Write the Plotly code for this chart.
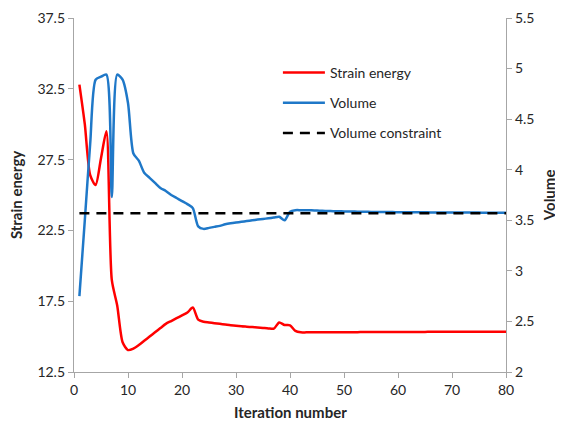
import plotly.graph_objects as go

iterations = list(range(1, 81))

strain_energy = [
    32.8, 30.0, 26.4, 25.7, 27.6, 29.5, 19.0, 17.2, 14.6, 14.05,
    14.15, 14.4, 14.7, 15.0, 15.3, 15.6, 15.9, 16.1, 16.3, 16.5,
    16.7, 17.05, 16.2, 16.05, 16.0, 15.95, 15.9, 15.85, 15.8, 15.77,
    15.73, 15.7, 15.67, 15.64, 15.61, 15.58, 15.56, 16.0, 15.82, 15.8,
    15.4, 15.3, 15.3, 15.3, 15.3, 15.3, 15.3, 15.3, 15.3, 15.31,
    15.31, 15.31, 15.32, 15.32, 15.32, 15.32, 15.32, 15.33, 15.33, 15.33,
    15.33, 15.33, 15.33, 15.33, 15.33, 15.34, 15.34, 15.34, 15.34, 15.34,
    15.34, 15.34, 15.34, 15.34, 15.35, 15.35, 15.35, 15.35, 15.35, 15.35,
]

volume = [
    2.75, 3.5, 4.26, 4.89, 4.92, 4.94, 3.73, 4.94, 4.89, 4.66,
    4.16, 4.09, 3.97, 3.92, 3.87, 3.82, 3.79, 3.75, 3.72, 3.69,
    3.66, 3.62, 3.44, 3.415, 3.425, 3.435, 3.445, 3.46, 3.47, 3.478,
    3.485, 3.492, 3.50, 3.507, 3.513, 3.52, 3.527, 3.535, 3.50, 3.585,
    3.60, 3.60, 3.60, 3.598, 3.596, 3.594, 3.592, 3.59, 3.589, 3.588,
    3.587, 3.586, 3.585, 3.584, 3.583, 3.582, 3.582, 3.581, 3.581, 3.58,
    3.58, 3.58, 3.579, 3.579, 3.579, 3.578, 3.578, 3.578, 3.577, 3.577,
    3.577, 3.576, 3.576, 3.576, 3.576, 3.575, 3.575, 3.575, 3.575, 3.575,
]

constraint_x = [1, 80]
constraint_value = [3.57, 3.57]

left_ticks = [12.5, 17.5, 22.5, 27.5, 32.5, 37.5]
right_ticks = [2, 2.5, 3, 3.5, 4, 4.5, 5, 5.5]
x_ticks = [0, 10, 20, 30, 40, 50, 60, 70, 80]

FONT = "Lato"
AXIS_COLOR = "#A6A6A6"
TEXT_COLOR = "#262626"

fig = go.Figure()
fig.add_trace(go.Scatter(
    x=iterations, y=strain_energy, name="Strain energy", mode="lines",
    line=dict(color="#FF0000", width=2.5, shape="spline", smoothing=0.7),
    legendgroup="a", yaxis="y",
))
fig.add_trace(go.Scatter(
    x=iterations, y=volume, name="Volume", mode="lines",
    line=dict(color="#1F78C8", width=2.5, shape="spline", smoothing=0.7),
    legendgroup="b", yaxis="y2",
))
fig.add_trace(go.Scatter(
    x=constraint_x, y=constraint_value, name="Volume constraint", mode="lines",
    line=dict(color="#000000", width=2.5, dash="10px,7px"),
    legendgroup="c", yaxis="y2",
))

axis_common = dict(
    showgrid=False, zeroline=False, automargin=False,
    showline=True, linecolor=AXIS_COLOR, linewidth=1.3,
    ticks="outside", ticklen=5, tickcolor=AXIS_COLOR,
    tickfont=dict(size=14),
)

fig.update_layout(
    width=555, height=422,
    margin=dict(l=66, r=57, t=10, b=58),
    paper_bgcolor="white", plot_bgcolor="white",
    font=dict(family=FONT, size=14, color=TEXT_COLOR),
    showlegend=True,
    legend=dict(
        x=0.472, y=0.89, xanchor="left", yanchor="top",
        bgcolor="rgba(0,0,0,0)", tracegroupgap=9, itemwidth=42,
        font=dict(family=FONT, size=14, color=TEXT_COLOR),
    ),
    xaxis=dict(range=[0, 80], tickvals=x_ticks, **axis_common),
    yaxis=dict(range=[12.5, 37.5], tickvals=left_ticks, tickformat=".1f",
               **axis_common),
    yaxis2=dict(range=[2, 5.5], tickvals=right_ticks, overlaying="y",
                side="right", **axis_common),
    annotations=[
        dict(text="<b>Strain energy</b>", xref="paper", yref="paper",
             x=-0.134, y=0.5, textangle=-90, showarrow=False,
             xanchor="center", yanchor="middle",
             font=dict(size=15, family=FONT, color=TEXT_COLOR)),
        dict(text="<b>Volume</b>", xref="paper", yref="paper",
             x=1.10, y=0.5, textangle=-90, showarrow=False,
             xanchor="center", yanchor="middle",
             font=dict(size=15, family=FONT, color=TEXT_COLOR)),
        dict(text="<b>Iteration number</b>", xref="paper", yref="paper",
             x=0.5, y=-0.113, showarrow=False, xanchor="center", yanchor="middle",
             font=dict(size=15, family=FONT, color=TEXT_COLOR)),
    ],
)

fig.write_html("out.html")
